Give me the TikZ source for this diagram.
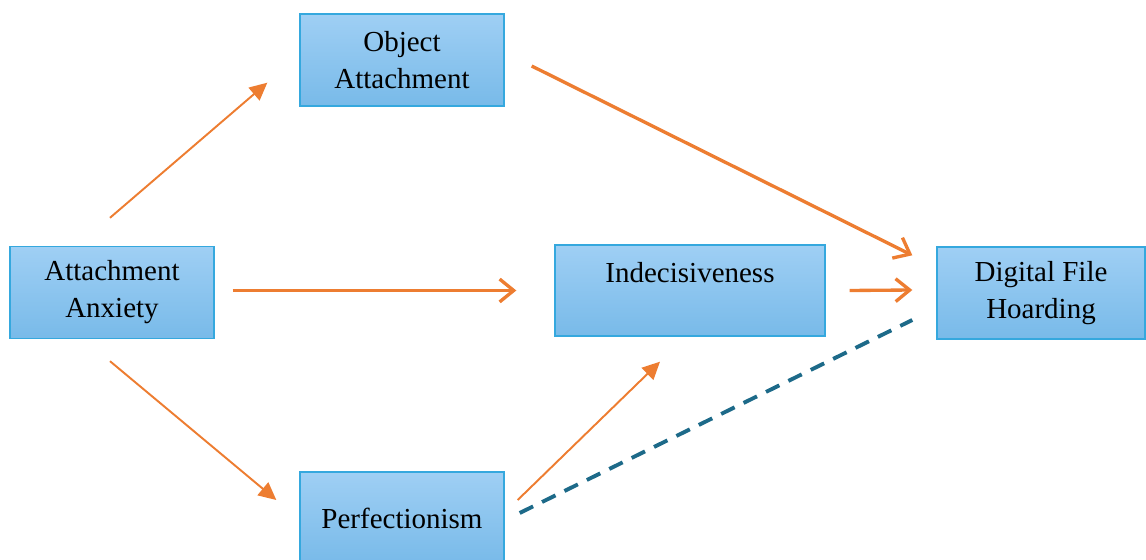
\documentclass[tikz,border=0pt]{standalone}
\usepackage{fontspec}
\setmainfont{LiberationSerif}[Extension=.ttf,UprightFont=*-Regular,BoldFont=*-Bold]
\usetikzlibrary{arrows.meta,calc}
\definecolor{boxtop}{HTML}{9FCFF4}
\definecolor{boxbot}{HTML}{78BAE9}
\definecolor{boxline}{HTML}{35A8DE}
\definecolor{flow}{HTML}{ED7D31}
\definecolor{direct}{HTML}{1D6A89}

\begin{document}
\begin{tikzpicture}[x=0.02cm,y=-0.02cm,font=\fontsize{16.5}{21}\selectfont,
  var/.style={draw=boxline,line width=0.8pt,top color=boxtop,bottom color=boxbot,
    align=center,minimum width=4.08cm,minimum height=1.84cm,inner sep=0pt},
  medarrow/.style={draw=flow,line width=1.1pt,-{Triangle[length=10pt,width=9.5pt]}},
  mainarrow/.style={draw=flow,line width=1.9pt,-{Straight Barb[length=8pt,width=13pt]}},
  directline/.style={draw=direct,line width=2.2pt,dash pattern=on 8.5pt off 5.7pt}]
  \useasboundingbox (0,0) rectangle (1146,560);
  \clip (0,0) rectangle (1146,560);
  %% variables
  \node[var] (aa) at (112,292.5) {Attachment\\Anxiety};
  \node[var] (oa) at (402,60) {Object\\Attachment};
  \node[var,minimum width=5.4cm,minimum height=1.82cm] (ind) at (690,290.5) {Indecisiveness\\\mbox{}};
  \node[var,minimum width=4.16cm] (dfh) at (1041,293) {Digital File\\Hoarding};
  \node[var] (perf) at (402,518) {Perfectionism};
  %% paths
  \draw[medarrow] ($(aa.north)+(-2,-28)$) -- ($(oa.south west)+(-32,-24)$);
  \draw[medarrow] ($(aa.south)+(-2,22)$) -- ($(perf.west)+(-23,-18)$);
  \draw[mainarrow] ($(aa.east)+(18,-2)$) -- ($(ind.west)+(-38,0)$);
  \draw[mainarrow] ($(oa.east)+(27,6)$) -- ($(dfh.north west)+(-24,9)$);
  \draw[mainarrow] ($(ind.east)+(24,0)$) -- ($(dfh.west)+(-24,-3)$);
  \draw[medarrow] ($(perf.east)+(13,-18)$) -- ($(ind.south)+(-30,25)$);
  \draw[directline] ($(perf.east)+(15,-5)$) -- ($(dfh.west)+(-24,27)$);
\end{tikzpicture}
\end{document}
